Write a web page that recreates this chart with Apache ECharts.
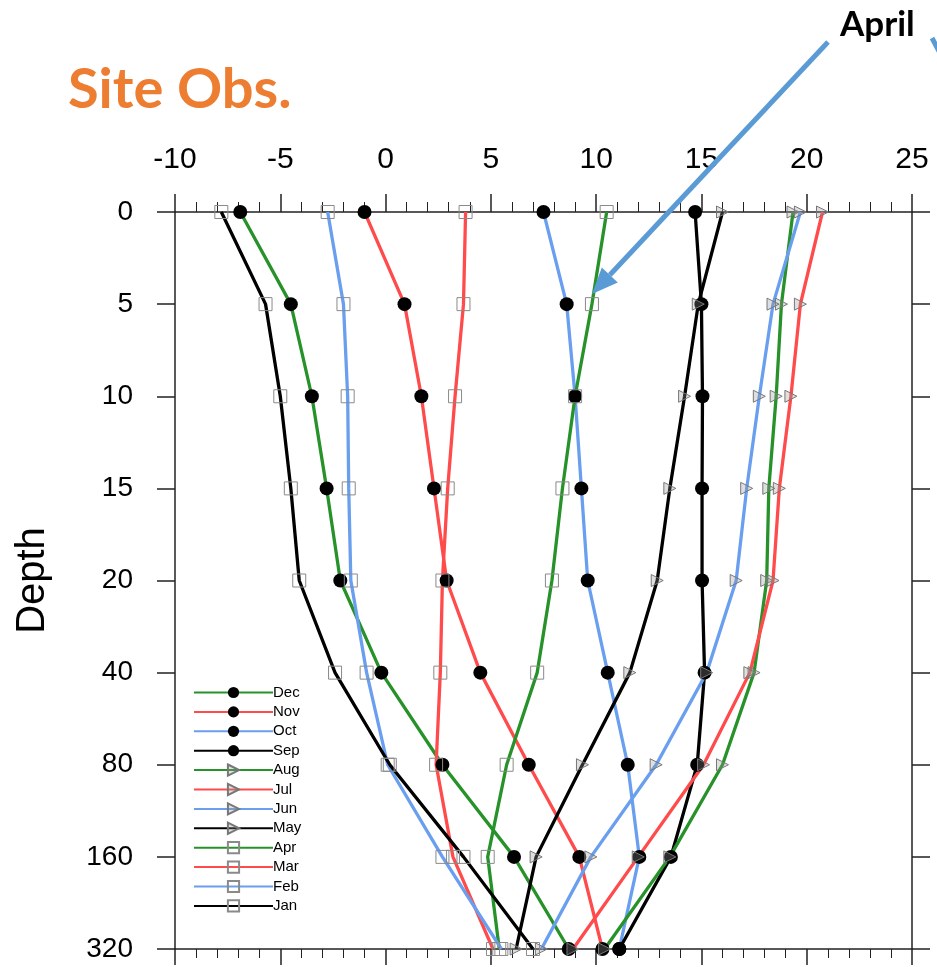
<!DOCTYPE html>
<html>
<head>
<meta charset="utf-8">
<script src="https://cdn.jsdelivr.net/npm/echarts@6/dist/echarts.min.js"></script>
<style>html,body{margin:0;padding:0;background:#fff;}#c{width:937px;height:967px;}</style>
</head>
<body>
<div id="c"></div>
<script>
// Depth categories (top to bottom)
var depths = ['0', '5', '10', '15', '20', '40', '80', '160', '320'];
var xTicks = [-10, -5, 0, 5, 10, 15, 20, 25];
var months = ['Dec', 'Nov', 'Oct', 'Sep', 'Aug', 'Jul', 'Jun', 'May', 'Apr', 'Mar', 'Feb', 'Jan'];

// Soil temperature profiles, one per month
var dec = [-6.9, -4.5, -3.5, -2.8, -2.15, -0.2, 2.7, 6.1, 8.7];
var nov = [-1.0, 0.9, 1.7, 2.3, 2.9, 4.5, 6.8, 9.2, 10.3];
var oct = [7.5, 8.6, 9.0, 9.3, 9.6, 10.55, 11.5, 12.05, 11.1];
var sep = [14.7, 15.0, 15.05, 15.03, 15.03, 15.15, 14.8, 13.55, 11.1];
var aug = [19.35, 18.8, 18.55, 18.2, 18.1, 17.5, 16.0, 13.5, 10.4];
var jul = [20.75, 19.7, 19.25, 18.7, 18.4, 17.3, 15.1, 12.0, 8.9];
var jun = [19.7, 18.4, 17.75, 17.15, 16.65, 15.25, 12.85, 9.75, 7.4];
var may = [16.0, 14.85, 14.2, 13.5, 12.9, 11.6, 9.35, 7.15, 6.2];
var apr = [10.5, 9.8, 9.0, 8.4, 7.9, 7.2, 5.75, 4.85, 5.4];
var mar = [3.8, 3.7, 3.3, 2.95, 2.7, 2.6, 2.4, 3.2, 5.1];
var feb = [-2.75, -2.0, -1.8, -1.75, -1.65, -0.9, 0.1, 2.7, 5.5];
var jan = [-7.8, -5.7, -5.0, -4.5, -4.1, -2.4, 0.2, 3.7, 7.0];

var values = [dec, nov, oct, sep, aug, jul, jun, may, apr, mar, feb, jan];
var lineColors = ['#279229', '#ff4b4b', '#6a9ff0', '#000000'];
var TRI = 'path://M0,0 L10,5 L0,10 Z';

var chart = echarts.init(document.getElementById('c'), null, {renderer: 'canvas'});

var series = months.map(function (m, i) {
  var kind = Math.floor(i / 4); // 0 circles, 1 triangles, 2 squares
  var sym, size, item;
  if (kind === 0) {
    sym = 'circle'; size = 14;
    item = {color: '#000', borderWidth: 0};
  } else if (kind === 1) {
    sym = TRI; size = 12;
    item = {color: 'rgba(150,150,150,0.3)', borderColor: '#777', borderWidth: 1};
  } else {
    sym = 'rect'; size = 13;
    item = {color: 'rgba(255,255,255,0)', borderColor: '#8a8a8a', borderWidth: 1};
  }
  return {
    name: m,
    type: 'line',
    xAxisIndex: 0,
    yAxisIndex: 0,
    data: values[i].map(function (v, j) { return [v, depths[j]]; }),
    symbol: sym,
    symbolSize: size,
    showAllSymbol: true,
    itemStyle: item,
    lineStyle: {color: lineColors[i % 4], width: 3.3},
    emphasis: {disabled: true},
    animation: false,
    z: 2
  };
});

var axisLineStyle = {color: '#222', width: 1.5};
var font = 'Liberation Sans, Arial, Helvetica, sans-serif';

chart.setOption({
  animation: false,
  grid: {left: 175, right: 25, top: 212, bottom: 18, containLabel: false},
  xAxis: [
    {
      type: 'value', position: 'top', min: -10, max: 25, interval: 5,
      axisLine: {show: true, onZero: false, lineStyle: axisLineStyle},
      axisTick: {show: true, inside: false, length: 18, lineStyle: axisLineStyle},
      minorTick: {show: true, splitNumber: 5, length: 10, lineStyle: {color: '#222', width: 1}},
      axisLabel: {show: true, margin: 37, fontSize: 30, color: '#000', fontFamily: font,
        formatter: function (v) { return xTicks.indexOf(v) >= 0 ? String(v) : ''; }},
      splitLine: {show: false}
    },
    {
      type: 'value', position: 'bottom', min: -10, max: 25, interval: 5,
      axisLine: {show: true, onZero: false, lineStyle: axisLineStyle},
      axisTick: {show: true, inside: false, length: 16, lineStyle: axisLineStyle},
      minorTick: {show: true, splitNumber: 5, length: 9, lineStyle: {color: '#222', width: 1}},
      axisLabel: {show: false},
      splitLine: {show: false}
    }
  ],
  yAxis: [
    {
      type: 'category', data: depths, inverse: true, boundaryGap: false, position: 'left',
      axisLine: {show: true, onZero: false, lineStyle: axisLineStyle},
      axisTick: {show: true, inside: false, length: 18, lineStyle: axisLineStyle},
      axisLabel: {margin: 42, fontSize: 28, color: '#000', fontFamily: font},
      splitLine: {show: false},
      name: 'Depth', nameLocation: 'middle', nameRotate: 90, nameGap: 122,
      nameTextStyle: {fontSize: 40, color: '#000', fontFamily: font}
    },
    {
      type: 'category', data: depths, inverse: true, boundaryGap: false, position: 'right',
      axisLine: {show: true, onZero: false, lineStyle: axisLineStyle},
      axisTick: {show: true, inside: false, length: 18, lineStyle: axisLineStyle},
      axisLabel: {show: false},
      splitLine: {show: false}
    }
  ],
  legend: {
    orient: 'vertical', left: 193, top: 684, padding: 0,
    itemWidth: 79, itemHeight: 14, itemGap: 2.4,
    data: months,
    textStyle: {fontSize: 15, lineHeight: 17, color: '#000', fontFamily: font, padding: [0, 0, 0, -5]},
    selectedMode: false
  },
  graphic: [
    {type: 'text', left: 68, top: 62, z: 10,
      style: {text: 'Site Obs.', fill: '#ED7D31', font: 'bold 56px Lato, "Open Sans", sans-serif'}},
    {type: 'text', left: 840, top: 7, z: 10,
      style: {text: 'April', fill: '#000', font: 'bold 35px Lato, "Open Sans", sans-serif'}},
    {type: 'line', z: 10, shape: {x1: 828, y1: 42, x2: 609.8, y2: 275},
      style: {stroke: '#5B9BD5', lineWidth: 5}},
    {type: 'polygon', z: 10, shape: {points: [[592, 294], [617.8, 282.5], [601.8, 267.5]]},
      style: {fill: '#5B9BD5'}},
    {type: 'line', z: 10, shape: {x1: 932, y1: 38, x2: 950, y2: 72},
      style: {stroke: '#5B9BD5', lineWidth: 5}}
  ],
  series: series
});
</script>
</body>
</html>
